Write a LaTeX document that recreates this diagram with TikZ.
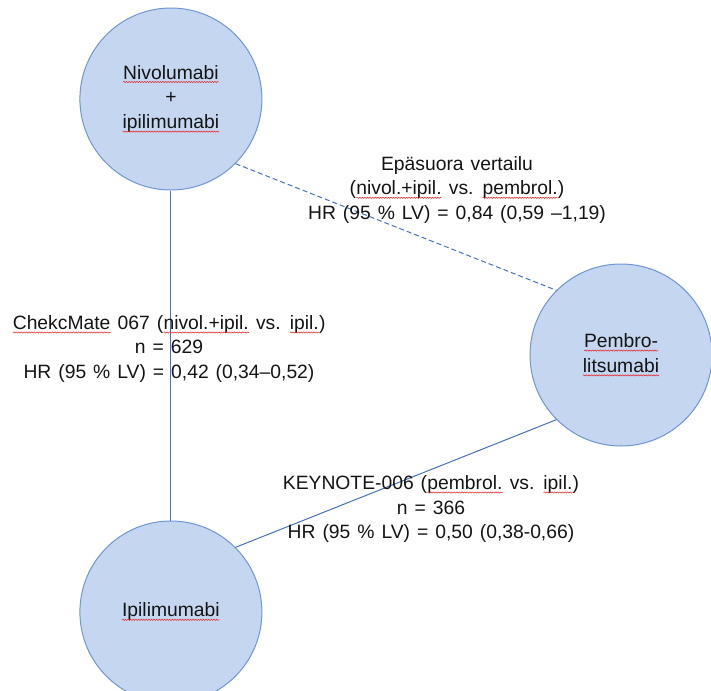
\documentclass[tikz,border=0pt]{standalone}
\usepackage{fontspec}
\setmainfont{Liberation Sans}[WordSpace=1.3]
\usetikzlibrary{decorations.pathmorphing}
\definecolor{circfill}{RGB}{197,214,240}
\definecolor{circdraw}{RGB}{110,150,214}
\definecolor{linkcol}{RGB}{70,112,192}
\definecolor{txt}{RGB}{20,20,20}
\definecolor{squig}{RGB}{230,40,40}
\newcommand{\sq}[1]{\tikz[baseline=(w.base)]{\node[shape=rectangle,draw=none,fill=none,minimum size=0pt,inner sep=0pt,outer sep=0pt,anchor=base](w){#1};\draw[squig,line width=0.55pt,dash pattern=,decorate,decoration={snake,amplitude=0.6pt,segment length=2.6pt}]([yshift=-2.8pt]w.base west)--([yshift=-2.8pt]w.base east);}}
\begin{document}
\begin{tikzpicture}[x=1pt,y=-1pt,
  drug/.style={circle,minimum size=182pt,inner sep=0pt,fill=circfill,draw=circdraw,line width=1pt,
    text=txt,align=center,font=\fontsize{19.3}{24.8}\selectfont},
  lbl/.style={align=center,text=txt,inner sep=0pt,font=\fontsize{19.3}{24.3}\selectfont},
  link/.style={draw=linkcol,line width=1pt},
  indirect/.style={link,dash pattern=on 5pt off 3pt}]
\useasboundingbox (0,0) rectangle (711,690);
\node[drug] (nivo) at (170.9,99) {\sq{Nivolumabi}\\+\\\sq{ipilimumabi}};
\node[drug] (pembro) at (621,355) {\sq{Pembro-}\\\sq{litsumabi}};
\node[drug] (ipi) at (170.9,612) {\sq{Ipilimumabi}};
\draw[link] (nivo.south) -- (ipi.north);
\draw[indirect] (nivo.south east) -- (pembro.north west);
\draw[link] (ipi.north east) -- (pembro.south west);
\node[lbl] (l1) at (457,190) {Epäsuora vertailu\\(\sq{nivol.+ipil.} vs. \sq{pembrol.})\\HR (95 \% LV) = 0,84 (0,59 –1,19)};
\node[lbl] (l2) at (169,349) {\sq{ChekcMate} 067 (\sq{nivol.+ipil.} vs. \sq{ipil.})\\n = 629\\HR (95 \% LV) = 0,42 (0,34–0,52)};
\node[lbl] (l3) at (431,509) {KEYNOTE-006 (\sq{pembrol.} vs. \sq{ipil.})\\n = 366\\HR (95 \% LV) = 0,50 (0,38-0,66)};
\end{tikzpicture}
\end{document}
